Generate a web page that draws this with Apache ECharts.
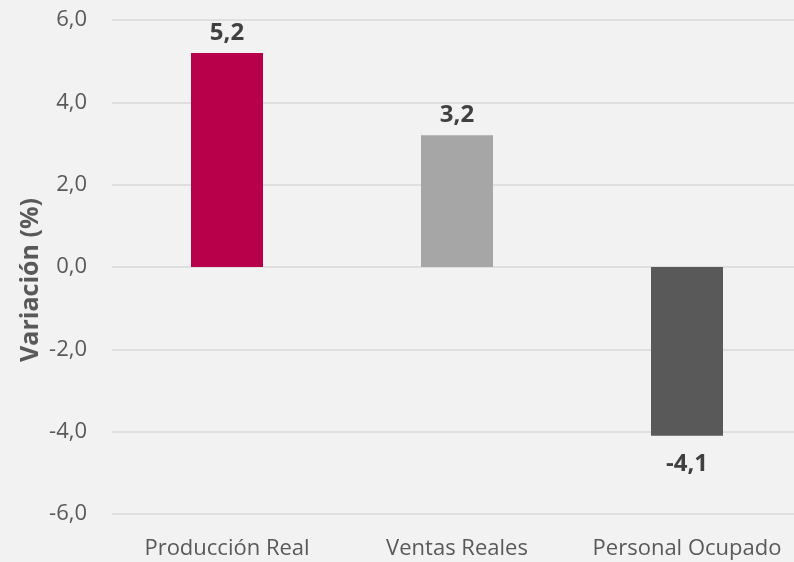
<!DOCTYPE html>
<html>
<head>
<meta charset="utf-8">
<script src="https://cdn.jsdelivr.net/npm/echarts@6/dist/echarts.min.js"></script>
<style>
  html, body { margin: 0; padding: 0; background: #f2f2f2; overflow: hidden; }
  /* plot area runs a few px past the right edge, like the original */
  #chart { width: 802px; height: 562px; }
</style>
</head>
<body>
<div id="chart"></div>
<script>
const categories = ['Producción Real', 'Ventas Reales', 'Personal Ocupado']
const values = [5.2, 3.2, -4.1]
const barColors = ['#b8004a', '#a6a6a6', '#595959']

const fmt = v => v.toFixed(1).replace('.', ',')

const chart = echarts.init(document.getElementById('chart'))
chart.setOption({
  backgroundColor: '#f2f2f2',
  animation: false,
  grid: { left: 112, top: 20, right: 0, bottom: 48, containLabel: false },
  xAxis: {
    type: 'category',
    data: categories,
    axisLine: { show: false },
    axisTick: { show: false },
    axisLabel: { interval: 0, color: '#595959', fontSize: 22, fontFamily: 'Open Sans', margin: 24 }
  },
  yAxis: {
    type: 'value',
    min: -6,
    max: 6,
    interval: 2,
    name: 'Variación (%)',
    nameLocation: 'middle',
    nameGap: 69,
    nameMoveOverlap: false,
    nameTextStyle: {
      color: '#595959', fontSize: 25, fontWeight: 'bold', fontFamily: 'Open Sans',
      padding: [0, 26, 0, 0]
    },
    axisLine: { show: false },
    axisTick: { show: false },
    axisLabel: { color: '#595959', fontSize: 22, fontFamily: 'Open Sans', margin: 25, formatter: fmt },
    splitLine: { lineStyle: { color: '#d9d9d9', width: 1.5 } }
  },
  series: [
    {
      type: 'bar',
      barWidth: 72,
      data: values.map((v, i) => ({
        value: v,
        itemStyle: { color: barColors[i] },
        label: {
          show: true,
          position: v >= 0 ? 'top' : 'bottom',
          distance: v >= 0 ? 8 : 16,
          formatter: p => fmt(p.value),
          color: '#404040',
          fontSize: 24,
          fontWeight: 'bold',
          fontFamily: 'Open Sans'
        }
      }))
    }
  ]
})
</script>
</body>
</html>
